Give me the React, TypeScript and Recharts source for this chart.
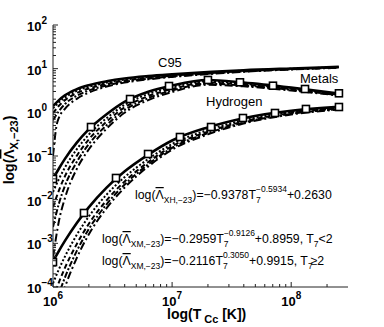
import React from "react";
import { LineChart, Line, XAxis, YAxis } from "recharts";

// log10(T_Cc [K]) sample points along each curve
const logT = [6.0, 6.05, 6.1, 6.2, 6.3, 6.45, 6.6, 6.8, 7.0, 7.3, 7.6, 8.0, 8.4];
const logTSteep = [6.0, 6.03, 6.05, 6.1, 6.2, 6.3, 6.45, 6.6, 6.8, 7.0, 7.3, 7.6, 8.0, 8.4];

// log10(Lambda) values
const c95Solid = [0.14, 0.28, 0.39, 0.53, 0.62, 0.71, 0.775, 0.83, 0.87, 0.92, 0.965, 1.005, 1.04];
const c95Dot = [0.09, 0.23, 0.34, 0.49, 0.585, 0.68, 0.75, 0.81, 0.855, 0.91, 0.955, 0.997, 1.035];
const c95Dash = [-0.02, 0.15, 0.28, 0.44, 0.545, 0.65, 0.725, 0.79, 0.84, 0.895, 0.945, 0.99, 1.03];
const c95DashDot = [-0.18, 0.03, 0.19, 0.38, 0.5, 0.615, 0.7, 0.77, 0.825, 0.885, 0.935, 0.985, 1.025];
const c95Steep = [-1.0, -0.3, -0.12, 0.08, 0.31, 0.45, 0.59, 0.68, 0.755, 0.81, 0.875, 0.93, 0.98, 1.02];

const metalSolid = [-1.524, -1.286, -1.065, -0.694, -0.392, -0.044, 0.24, 0.47, 0.615, 0.74, 0.68, 0.565, 0.43];
const metalDot = [-1.824, -1.526, -1.265, -0.844, -0.512, -0.134, 0.17, 0.42, 0.575, 0.71, 0.655, 0.545, 0.415];
const metalDash = [-2.174, -1.786, -1.465, -0.994, -0.622, -0.214, 0.11, 0.37, 0.535, 0.68, 0.635, 0.53, 0.405];
const metalDashDot = [-2.624, -2.086, -1.685, -1.134, -0.732, -0.294, 0.05, 0.325, 0.5, 0.655, 0.615, 0.515, 0.395];
const metalDashDot2 = [-3.324, -2.486, -1.965, -1.294, -0.852, -0.374, -0.01, 0.28, 0.465, 0.63, 0.595, 0.5, 0.385];

const hydroSolid = [-3.415, -3.171, -2.944, -2.534, -2.177, -1.725, -1.357, -0.969, -0.645, -0.345, -0.135, 0.035, 0.125];
const hydroDot = [-3.915, -3.591, -3.304, -2.804, -2.387, -1.885, -1.487, -1.069, -0.725, -0.405, -0.18, 0.005, 0.105];
const hydroDash = [-4.265, -3.891, -3.564, -3.014, -2.557, -2.015, -1.587, -1.139, -0.775, -0.445, -0.21, -0.015, 0.09];
const hydroDashDot = [-4.565, -4.151, -3.784, -3.174, -2.677, -2.105, -1.657, -1.189, -0.815, -0.475, -0.235, -0.035, 0.075];
const hydroDashDot2 = [-4.865, -4.411, -4.004, -3.334, -2.797, -2.195, -1.727, -1.239, -0.855, -0.505, -0.255, -0.05, 0.065];

// square markers (fit points)
const metalMarkT = [6.0, 6.319, 6.647, 6.974, 7.301, 7.57, 7.847, 8.116, 8.401];
const metalMarkVal = [-1.526, -0.336, 0.305, 0.603, 0.741, 0.688, 0.61, 0.534, 0.436];
const hydroMarkT = [6.0, 6.26, 6.529, 6.798, 7.066, 7.327, 7.595, 7.864, 8.124, 8.401];
const hydroMarkVal = [-3.43, -2.305, -1.503, -0.954, -0.565, -0.336, -0.13, -0.015, 0.077, 0.122];

const xDecades = [6, 7, 8];
const yDecades = [-4, -3, -2, -1, 0, 1, 2];
const minorSteps = [2, 3, 4, 5, 6, 7, 8, 9];

const FONT = "'Liberation Sans', Arial, Helvetica, sans-serif";
const AXIS = "#222";
const PLOT_L = 53;
const PLOT_R = 348;
const PLOT_T = 25;
const PLOT_B = 287;
const X_MAX = 8.477;

const zip = (xs: number[], ys: number[]) => xs.map((x, i) => ({ x, y: ys[i] }));

const minorTicks = (decades: number[], max: number) =>
  decades.flatMap((d) => minorSteps.map((k) => d + Math.log10(k))).filter((v) => v < max - 0.01);

const xTicks = [...xDecades, ...minorTicks(xDecades, X_MAX)].sort((a, b) => a - b);
const yTicks = [...yDecades, ...minorTicks(yDecades.slice(0, -1), 2)].sort((a, b) => a - b);

const isMajor = (v: number) => Math.abs(v - Math.round(v)) < 1e-6;
const expText = (v: number) => {
  const n = Math.round(v);
  return n < 0 ? "\u2212" + Math.abs(n) : String(n);
};

function BottomTick({ x, payload }: any) {
  const major = isMajor(payload.value);
  return (
    <g>
      <line x1={x} x2={x} y1={PLOT_B} y2={PLOT_B - (major ? 5 : 3)} stroke={AXIS} />
      {major && (
        <text x={x} y={306} textAnchor="middle" fontFamily={FONT} fontWeight="bold" fontSize={13} fill="#000">
          10
          <tspan dy={-7} fontSize={10}>
            {expText(payload.value)}
          </tspan>
        </text>
      )}
    </g>
  );
}

function TopTick({ x, payload }: any) {
  const major = isMajor(payload.value);
  return <line x1={x} x2={x} y1={PLOT_T} y2={PLOT_T + (major ? 5 : 3)} stroke={AXIS} />;
}

function LeftTick({ y, payload }: any) {
  const major = isMajor(payload.value);
  return (
    <g>
      <line x1={PLOT_L} x2={PLOT_L + (major ? 5 : 3)} y1={y} y2={y} stroke={AXIS} />
      {major && (
        <text x={27} y={y + 6} fontFamily={FONT} fontWeight="bold" fontSize={13} fill="#000">
          10
          <tspan dy={-7} fontSize={10}>
            {expText(payload.value)}
          </tspan>
        </text>
      )}
    </g>
  );
}

function RightTick({ y, payload }: any) {
  const major = isMajor(payload.value);
  return <line x1={PLOT_R} x2={PLOT_R - (major ? 5 : 3)} y1={y} y2={y} stroke={AXIS} />;
}

function SquareDot({ cx, cy }: any) {
  if (cx == null || cy == null) return null;
  return <rect x={cx - 3.5} y={cy - 3.5} width={7} height={7} fill="#fff" stroke="#000" strokeWidth={1.6} />;
}

// Lambda with a bar over it
const LamBar = () => <tspan style={{ textDecoration: "overline" }}>{"\u039B"}</tspan>;

const DASHES: Record<string, string> = {
  solid: "",
  dot: "2 2",
  dash: "5 3",
  dashDot: "6 2 2 2",
  dashDot2: "8 3 2 3",
};

const curves = [
  { key: "c95-steep", xs: logTSteep, ys: c95Steep, style: "dashDot2" },
  { key: "c95-dd", xs: logT, ys: c95DashDot, style: "dashDot" },
  { key: "c95-dash", xs: logT, ys: c95Dash, style: "dash" },
  { key: "c95-dot", xs: logT, ys: c95Dot, style: "dot" },
  { key: "c95-solid", xs: logT, ys: c95Solid, style: "solid" },
  { key: "m-dd2", xs: logT, ys: metalDashDot2, style: "dashDot2" },
  { key: "m-dd", xs: logT, ys: metalDashDot, style: "dashDot" },
  { key: "m-dash", xs: logT, ys: metalDash, style: "dash" },
  { key: "m-dot", xs: logT, ys: metalDot, style: "dot" },
  { key: "m-solid", xs: logT, ys: metalSolid, style: "solid" },
  { key: "h-dd2", xs: logT, ys: hydroDashDot2, style: "dashDot2" },
  { key: "h-dd", xs: logT, ys: hydroDashDot, style: "dashDot" },
  { key: "h-dash", xs: logT, ys: hydroDash, style: "dash" },
  { key: "h-dot", xs: logT, ys: hydroDot, style: "dot" },
  { key: "h-solid", xs: logT, ys: hydroSolid, style: "solid" },
];

const SUB = 8.5;

export default function App() {
  return (
    <div style={{ position: "absolute", left: 0, top: 0, width: 384, height: 327, background: "#fff" }}>
      <LineChart width={384} height={327} margin={{ top: PLOT_T, right: 384 - PLOT_R, bottom: 0, left: 0 }}>
        <XAxis
          xAxisId="b"
          type="number"
          dataKey="x"
          domain={[6, X_MAX]}
          ticks={xTicks}
          interval={0}
          tick={<BottomTick />}
          tickLine={false}
          axisLine={{ stroke: AXIS }}
          height={327 - PLOT_B}
          allowDataOverflow
        />
        <XAxis
          xAxisId="t"
          orientation="top"
          type="number"
          dataKey="x"
          domain={[6, X_MAX]}
          ticks={xTicks}
          interval={0}
          tick={<TopTick />}
          tickLine={false}
          axisLine={{ stroke: AXIS }}
          height={0}
          allowDataOverflow
        />
        <YAxis
          yAxisId="l"
          type="number"
          domain={[-4, 2]}
          ticks={yTicks}
          interval={0}
          tick={<LeftTick />}
          tickLine={false}
          axisLine={{ stroke: AXIS }}
          width={PLOT_L}
          allowDataOverflow
        />
        <YAxis
          yAxisId="r"
          orientation="right"
          type="number"
          domain={[-4, 2]}
          ticks={yTicks}
          interval={0}
          tick={<RightTick />}
          tickLine={false}
          axisLine={{ stroke: AXIS }}
          width={0}
          allowDataOverflow
        />

        {curves.map((c) => (
          <Line
            key={c.key}
            xAxisId="b"
            yAxisId="l"
            data={zip(c.xs, c.ys)}
            dataKey="y"
            type="monotone"
            stroke="#000"
            strokeWidth={c.style === "solid" ? 2.6 : 2}
            strokeDasharray={DASHES[c.style]}
            dot={false}
            activeDot={false}
            isAnimationActive={false}
          />
        ))}
        <Line
          xAxisId="b"
          yAxisId="l"
          data={zip(metalMarkT, metalMarkVal)}
          dataKey="y"
          type="linear"
          stroke="none"
          dot={<SquareDot />}
          activeDot={false}
          isAnimationActive={false}
        />
        <Line
          xAxisId="b"
          yAxisId="l"
          data={zip(hydroMarkT, hydroMarkVal)}
          dataKey="y"
          type="linear"
          stroke="none"
          dot={<SquareDot />}
          activeDot={false}
          isAnimationActive={false}
        />

        <g fontFamily={FONT} fill="#000">
          <text x={158} y={67} fontSize={13}>C95</text>
          <text x={300} y={83} fontSize={13}>Metals</text>
          <text x={206} y={106} fontSize={13}>Hydrogen</text>

          <text x={135} y={199} fontSize={12.3}>
            log(<LamBar />
            <tspan dy={4} fontSize={SUB}>XH,−23</tspan>
            <tspan dy={-4}>)=−0.9378T</tspan>
            <tspan dy={4} fontSize={SUB}>7</tspan>
            <tspan dx={-4.7} dy={-11} fontSize={SUB}>−0.5934</tspan>
            <tspan dy={7}>+0.2630</tspan>
          </text>
          <text x={102} y={243} fontSize={12.3}>
            log(<LamBar />
            <tspan dy={4} fontSize={SUB}>XM,−23</tspan>
            <tspan dy={-4}>)=−0.2959T</tspan>
            <tspan dy={4} fontSize={SUB}>7</tspan>
            <tspan dx={-4.7} dy={-11} fontSize={SUB}>−0.9126</tspan>
            <tspan dy={7}>+0.8959, T</tspan>
            <tspan dy={4} fontSize={SUB}>7</tspan>
            <tspan dy={-4}>{"<2"}</tspan>
          </text>
          <text x={102} y={265} fontSize={12.3}>
            log(<LamBar />
            <tspan dy={4} fontSize={SUB}>XM,−23</tspan>
            <tspan dy={-4}>)=−0.2116T</tspan>
            <tspan dy={4} fontSize={SUB}>7</tspan>
            <tspan dx={-4.7} dy={-11} fontSize={SUB}>0.3050</tspan>
            <tspan dy={7}>+0.9915, T</tspan>
            <tspan dy={4} fontSize={SUB}>7</tspan>
            <tspan dx={-2} dy={-4}>{"≥2"}</tspan>
          </text>

          <text x={167} y={319} fontSize={14} fontWeight="bold">
            log(T
            <tspan dx={3} dy={4} fontSize={11}>Cc</tspan>
            <tspan dy={-4}> [K])</tspan>
          </text>
          <text transform="translate(14,150) rotate(-90)" textAnchor="middle" fontSize={14} fontWeight="bold">
            log(<LamBar />
            <tspan dy={4} fontSize={11}>X,−23</tspan>
            <tspan dy={-4}>)</tspan>
          </text>
        </g>
      </LineChart>
    </div>
  );
}
